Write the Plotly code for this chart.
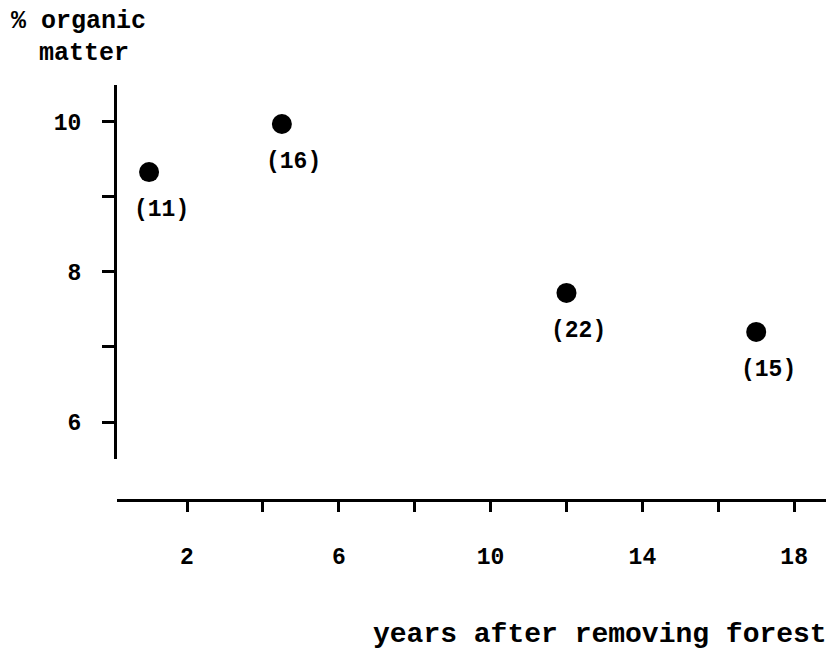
import plotly.graph_objects as go

years = [1, 4.5, 12, 17]
organic = [9.33, 9.97, 7.72, 7.2]
counts = ["(11)", "(16)", "(22)", "(15)"]

x_ticks = [2, 4, 6, 8, 10, 12, 14, 16, 18]
x_ticktext = ["2", "", "6", "", "10", "", "14", "", "18"]
y_ticks = [6, 7, 8, 9, 10]
y_ticktext = ["6", "", "8", "", "10"]

FONT = "Liberation Mono"
OFF = 8  # page body margin
W, H = 834 - OFF, 649 - OFF
L, R, T, B = 117 - OFF, 0, 85 - OFF, 649 - 500
PW, PH = W - L - R, H - T - B

def px(x):
    return (x - OFF - L) / PW

def py(y):
    return (H - B - (y - OFF)) / PH

fig = go.Figure()
fig.add_trace(go.Scatter(
    x=years, y=organic, mode="markers",
    marker=dict(size=20, color="black"),
    showlegend=False, hoverinfo="skip",
))

for xv, yv, t in zip(years, organic, counts):
    fig.add_annotation(x=xv, y=yv, text=t, showarrow=False, xshift=12, yshift=-38,
                       font=dict(family=FONT, size=23, color="black", weight="bold"))

fig.add_annotation(x=px(10), y=py(22), xref="paper", yref="paper", text="% organic",
                   showarrow=False, xanchor="left", yanchor="middle", borderpad=0,
                   font=dict(family=FONT, size=25, color="black", weight="bold"))
fig.add_annotation(x=px(38), y=py(53), xref="paper", yref="paper", text="matter",
                   showarrow=False, xanchor="left", yanchor="middle", borderpad=0,
                   font=dict(family=FONT, size=25, color="black", weight="bold"))
fig.add_annotation(x=px(372), y=py(634), xref="paper", yref="paper",
                   text="years after removing forest",
                   showarrow=False, xanchor="left", yanchor="middle", borderpad=0,
                   font=dict(family=FONT, size=28, color="black", weight="bold"))

fig.update_layout(
    width=W, height=H,
    margin=dict(l=L, r=R, t=T, b=B, pad=0),
    paper_bgcolor="white", plot_bgcolor="white",
    xaxis=dict(range=[0.155, 19.05], showgrid=False, zeroline=False,
               showline=True, linecolor="black", linewidth=3,
               ticks="outside", ticklen=10, tickwidth=3, tickcolor="black",
               tickvals=x_ticks, ticktext=x_ticktext, ticklabelstandoff=24,
               tickfont=dict(family=FONT, size=23, color="black", weight="bold"),
               anchor="free", position=0),
    yaxis=dict(range=[5.507, 10.49], domain=[0.0988, 1], showgrid=False, zeroline=False,
               showline=True, linecolor="black", linewidth=3,
               ticks="outside", ticklen=12, tickwidth=3, tickcolor="black",
               tickvals=y_ticks, ticktext=y_ticktext, ticklabelstandoff=16,
               tickfont=dict(family=FONT, size=23, color="black", weight="bold")),
)

fig.write_html("out.html")
